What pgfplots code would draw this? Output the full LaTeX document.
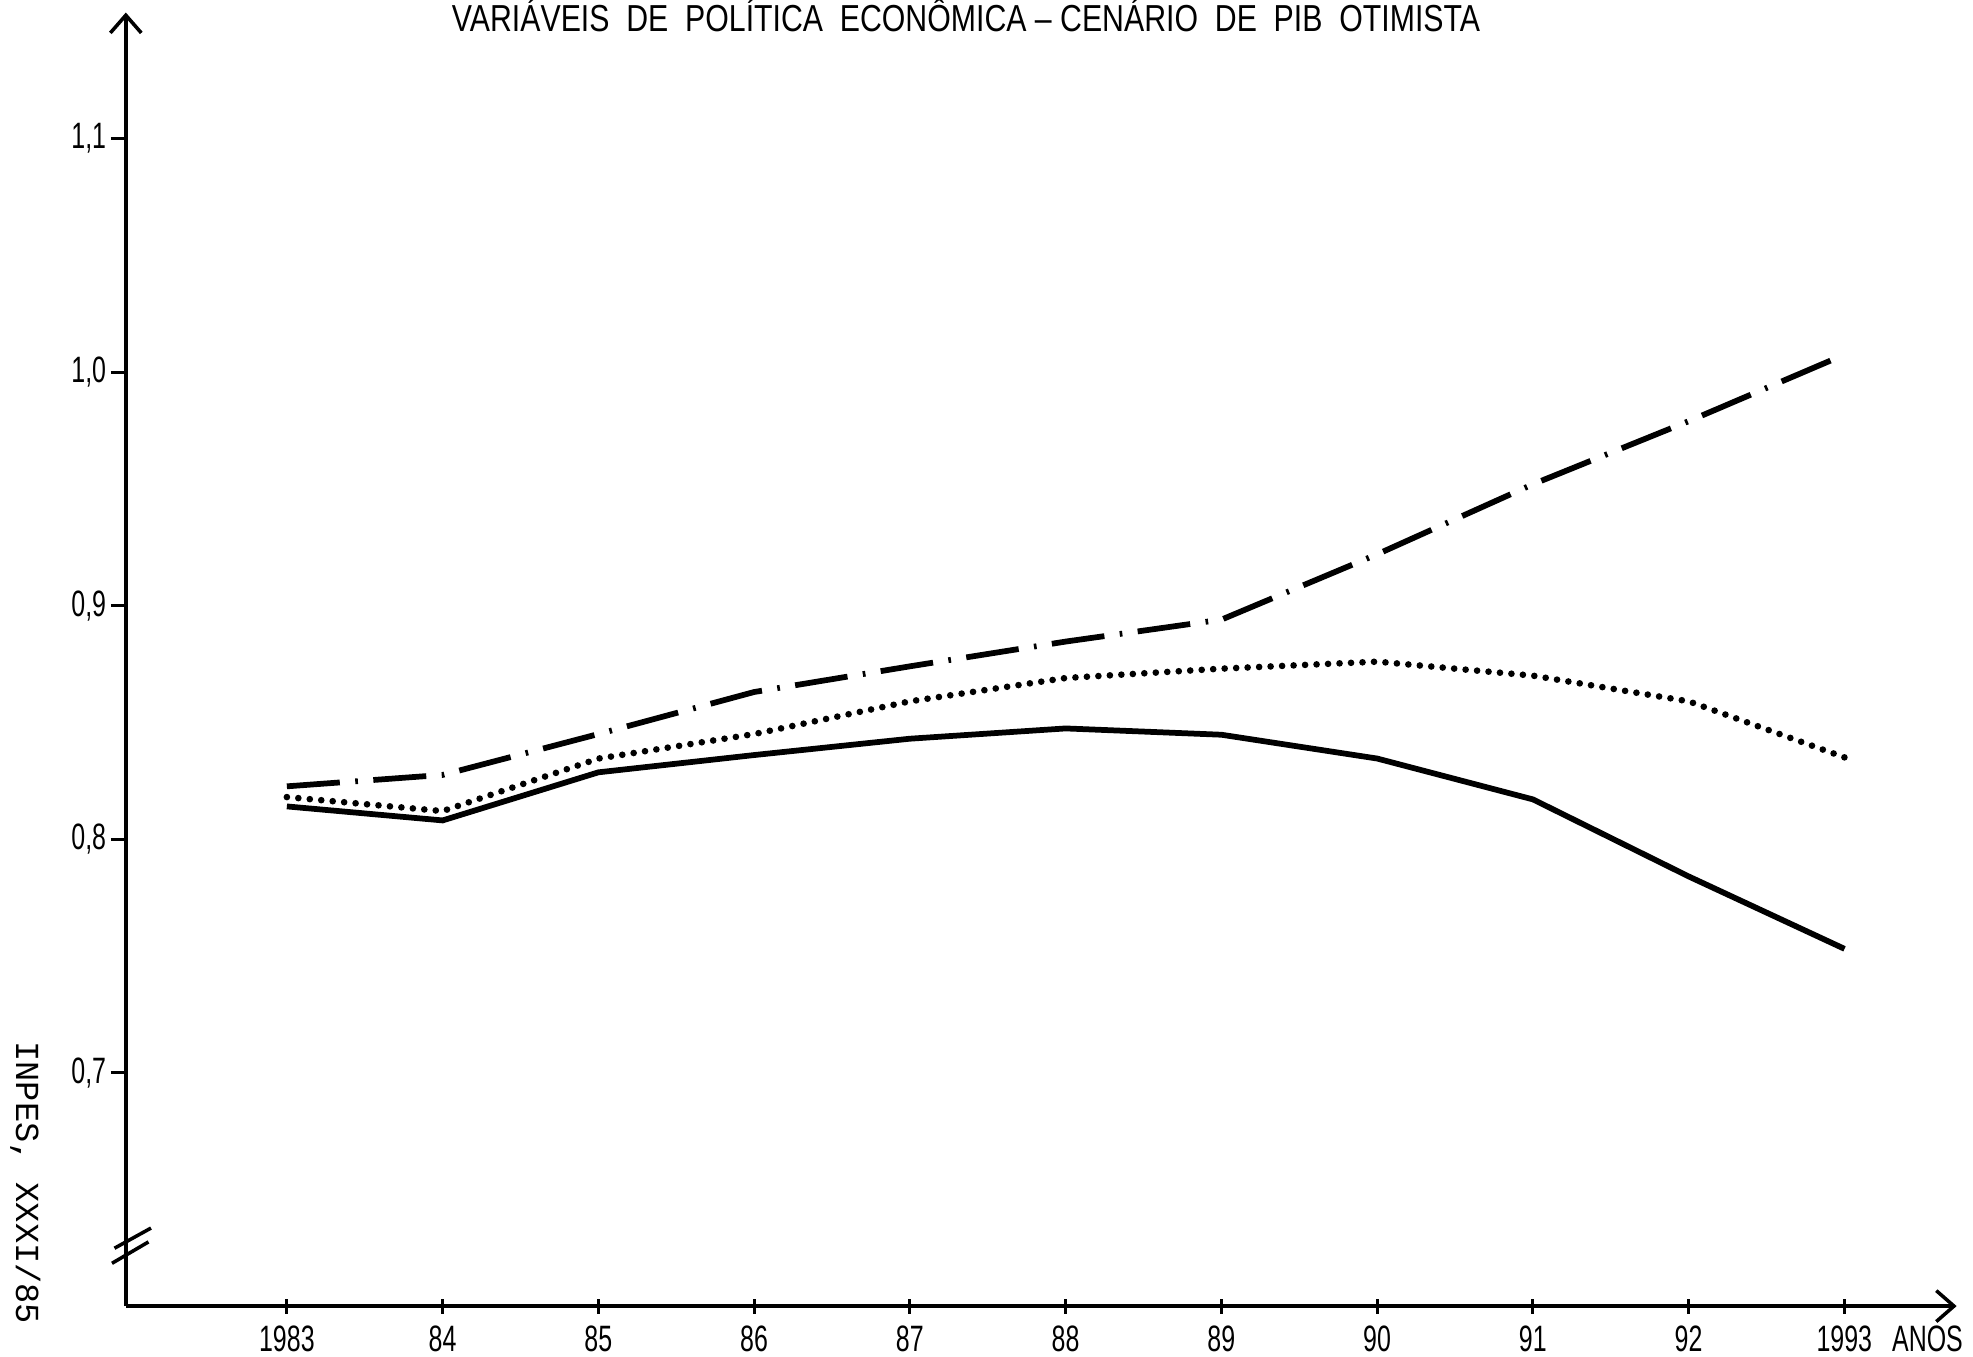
\documentclass[border=0pt]{standalone}
\usepackage{fontspec}
\setmainfont{Liberation Sans}
\newfontfamily\cond{Liberation Sans}[FakeStretch=0.68]
\newfontfamily\mono{Liberation Mono}
\usepackage{graphicx}
\usepackage{pgfplots}
\pgfplotsset{compat=1.18}
\usetikzlibrary{arrows.meta}

\pgfplotstableread{
x     solid   dotted  dashdot
1983  0.814   0.818   0.8226
1984  0.808   0.812   0.8275
1985  0.8286  0.8345  0.845
1986  0.836   0.845   0.863
1987  0.843   0.859   0.874
1988  0.8474  0.869   0.8846
1989  0.8447  0.873   0.894
1990  0.8345  0.876   0.922
1991  0.817   0.870   0.952
1992  0.784   0.859   0.979
1993  0.753   0.835   1.0075
}\datatable

\begin{document}
\begin{tikzpicture}
\begin{axis}[
  scale only axis, width=14.55cm, height=10.28cm,
  xmin=1981.966, xmax=1993.72, ymin=0.6, ymax=1.154,
  axis lines=left,
  axis line style={line width=0.8pt, -{Straight Barb[length=4pt,width=7pt,line width=0.8pt]}},
  xtick={1983,...,1993},
  xticklabels={1983,84,85,86,87,88,89,90,91,92,1993},
  ytick={0.7,0.8,0.9,1.0,1.1},
  yticklabels={{0,7},{0,8},{0,9},{1,0},{1,1}},
  tick align=outside, major tick length=0.12cm,
  tick style={line width=0.7pt, black},
  xtick style={yshift=0.06cm},
  ticklabel style={font=\cond\fontsize{8.3}{10}\selectfont, inner sep=0pt},
  xticklabel style={anchor=north, yshift=-0.03cm},
  yticklabel style={anchor=east, xshift=-0.03cm},
  clip=false,
]
\addplot[black, line width=1.3pt, sharp plot] table[x=x, y=solid] {\datatable};
\addplot[black, line width=1.5pt, line cap=round, dash pattern=on 0pt off 2.6pt, sharp plot] table[x=x, y=dotted] {\datatable};
\addplot[black, line width=1.3pt, dash pattern=on 12pt off 3.5pt on 0.6pt off 3.5pt, sharp plot] table[x=x, y=dashdot] {\datatable};

\node[anchor=base, yshift=-0.15cm] at (axis cs:1987.36,1.154)
  {\resizebox{8.17cm}{\height}{\fontsize{8.5}{10}\selectfont VARIÁVEIS\ \ DE\ \ POLÍTICA\ \ ECONÔMICA – CENÁRIO\ \ DE\ \ PIB\ \ OTIMISTA}};
\node[anchor=base west, inner sep=0pt, yshift=-0.36cm, font=\cond\fontsize{8.3}{10}\selectfont] at (axis cs:1993.3,0.6) {ANOS};
\node[rotate=-90, font=\mono\fontsize{7.6}{10}\selectfont] at (axis cs:1981.32,0.6528) {INPES, XXXI/85};
\draw[line width=0.8pt] (axis cs:1981.966,0.6) ++(-0.09cm,0.46cm) -- ++(0.29cm,0.16cm);
\draw[line width=0.8pt] (axis cs:1981.966,0.6) ++(-0.11cm,0.34cm) -- ++(0.29cm,0.17cm);
\end{axis}
\pgfresetboundingbox
\path[use as bounding box] (current axis.south west) ++(-1cm,-0.4cm) rectangle ++(15.68cm,10.78cm);
\end{tikzpicture}
\end{document}
